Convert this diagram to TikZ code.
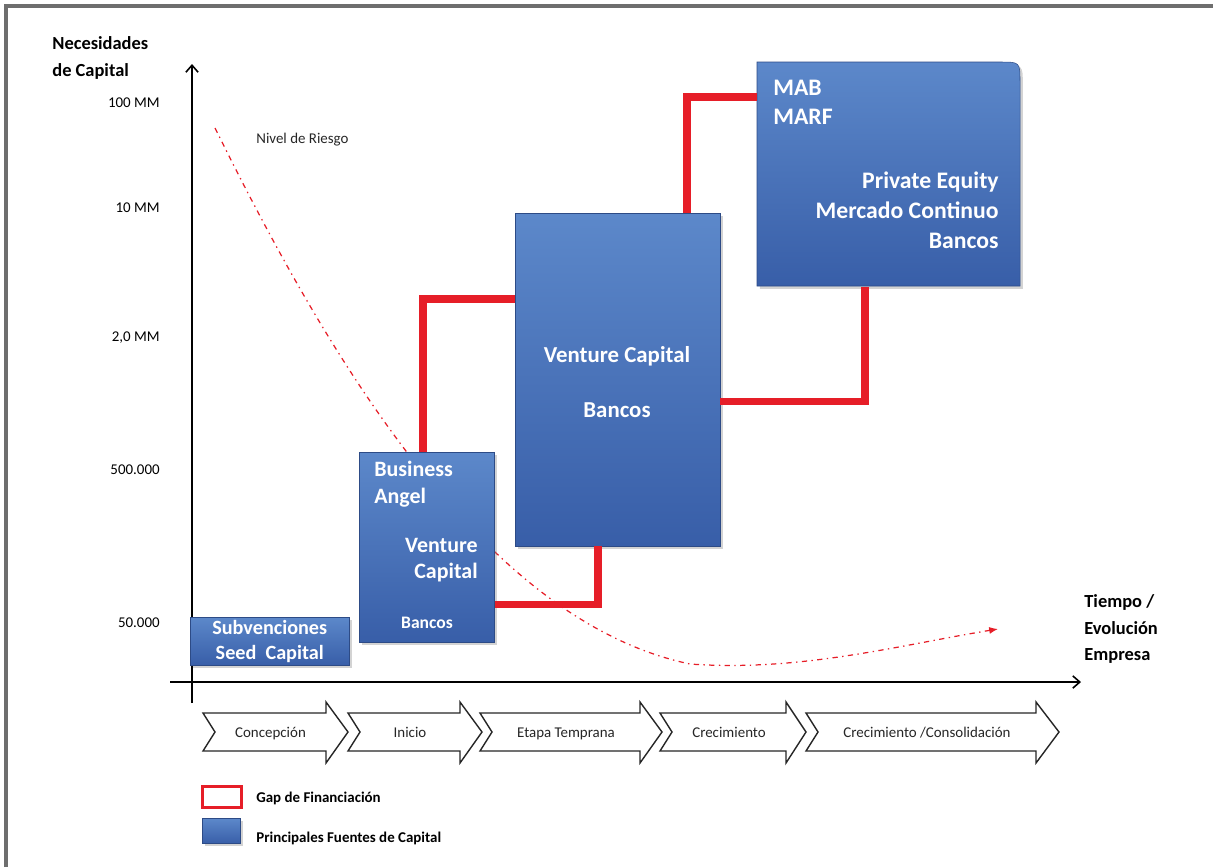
\documentclass[tikz,border=0pt]{standalone}
\usepackage{fontspec}
\setmainfont{Carlito}
\usetikzlibrary{arrows.meta,shadows,calc}

\definecolor{azularriba}{RGB}{92,136,202}
\definecolor{azulabajo}{RGB}{56,94,168}
\definecolor{gaprojo}{RGB}{230,30,40}
\definecolor{marco}{RGB}{110,110,110}

\tikzset{
	fuente/.style={top color=azularriba, bottom color=azulabajo, draw=azulabajo!80!black, line width=0.3pt,
		drop shadow={shadow xshift=1.6pt, shadow yshift=-1.6pt, opacity=0.35}},
	fuentetxt/.style={text=white, font=\fontsize{12.5}{15}\selectfont\bfseries, inner sep=0pt},
	gap/.style={draw=gaprojo, line width=4pt, line join=miter},
	eje/.style={line width=0.9pt, -{Straight Barb[length=4pt,width=7pt]}},
	etapa/.style={draw=black!85, line width=0.8pt, fill=white},
	etapatxt/.style={font=\fontsize{8.5}{10}\selectfont, text=black!85, inner sep=0pt, text height=1.6ex, text depth=0.4ex},
	ticktxt/.style={font=\fontsize{8.5}{10}\selectfont, anchor=east, inner sep=0pt},
	titulo/.style={font=\fontsize{10.5}{15.2}\selectfont\bfseries, align=left, anchor=west, inner sep=0pt},
	leyenda/.style={font=\fontsize{8.5}{10}\selectfont\bfseries, anchor=west, inner sep=0pt},
}

% chevron of one stage: left, head base, tip, name, text
\newcommand{\etapa}[5]{%
	\draw[etapa] (#1,713) -- (#2,713) -- (#2,702) -- (#3,732) -- (#2,763) -- (#2,751) -- (#1,751) -- ({#1+12},732) -- cycle;
	\node[etapatxt] (#4) at ({(#1+#2)/2+6},732) {#5};}

\begin{document}
\begin{tikzpicture}[x=0.02cm, y=-0.02cm]
	%%%%% START %%%%%
	\useasboundingbox (0,0) rectangle (1213,867);
	\draw[marco, line width=2.4pt] (6,867) -- (6,6) -- (1213,6);
	
	% titles and ticks
	\node[titulo] (necesidades) at (52,58) {Necesidades\\de Capital};
	\node[titulo] (tiempo) at (1084,629) {Tiempo /\\Evolución\\Empresa};
	\node[ticktxt] (t100) at (160,103) {100 MM};
	\node[ticktxt] (t10) at (160,208) {10 MM};
	\node[ticktxt] (t2) at (160,338) {2,0 MM};
	\node[ticktxt] (t500) at (160,470) {500.000};
	\node[ticktxt] (t50) at (160,623) {50.000};
	\node[etapatxt, anchor=west] (riesgo) at (256,138) {Nivel de Riesgo};
	
	% risk curve
	\draw[gaprojo, line width=0.7pt, dash pattern=on 3pt off 2.5pt on 0.8pt off 2.5pt, -{Latex[length=5pt,width=4pt]}]
		(215,128) .. controls (325,350) and (480,620) .. (690,664) .. controls (800,672) and (900,645) .. (998,629);
	
	% axes
	\draw[eje] (192,703) -- (192,64);
	\draw[eje] (170,682) -- (1081,682);
	
	% sources of capital
	\node[fuente, anchor=north west, minimum width=3.18cm, minimum height=0.96cm] (sub) at (190,617) {};
	\node[fuente, anchor=north west, minimum width=2.70cm, minimum height=3.80cm] (ba) at (359,452) {};
	\node[fuente, anchor=north west, minimum width=4.10cm, minimum height=6.66cm] (vc) at (515,213) {};
	\path[fuente] (757,286) -- (757,62) -- (1000,62) .. controls (1020,62) .. (1020,82) -- (1020,286) -- cycle;
	\node[anchor=north west, inner sep=0pt, minimum width=5.26cm, minimum height=4.48cm] (mab) at (757,62) {};
	
	\node[fuentetxt, align=center, font=\fontsize{11.5}{14.5}\selectfont\bfseries] (subtxt) at (sub) {Subvenciones\\Seed\ \ Capital};
	\node[fuentetxt, align=left, anchor=west] (batxt) at (374,484) {Business\\Angel};
	\node[fuentetxt, align=right, anchor=east] (vctxt) at (478,560) {Venture\\Capital};
	\node[fuentetxt, font=\fontsize{10}{12}\selectfont\bfseries] (bancosba) at (427,623) {Bancos};
	\node[fuentetxt, align=center, font=\fontsize{13}{31}\selectfont\bfseries] (vcgrande) at (617,382) {Venture Capital\\Bancos};
	\node[fuentetxt, align=left, anchor=west, font=\fontsize{13.5}{16.5}\selectfont\bfseries] (mabtxt) at (773,102) {MAB\\MARF};
	\node[fuentetxt, align=right, anchor=east, font=\fontsize{13.5}{17}\selectfont\bfseries] (petxt) at (999,210) {Private Equity\\Mercado Continuo\\Bancos};
	
	% financing gaps
	\draw[gap] (423,0 |- ba.north) |- (vc.west |- 0,299);
	\draw[gap] (ba.east |- 0,604) -| (598,0 |- vc.south);
	\draw[gap] (687,0 |- vc.north) |- (mab.west |- 0,97);
	\draw[gap] (vc.east |- 0,401) -| (865,0 |- mab.south);
	
	% stages
	\etapa{203}{326}{348}{concepcion}{Concepción}
	\etapa{348}{460}{482}{inicio}{Inicio}
	\etapa{480}{640}{662}{temprana}{Etapa Temprana}
	\etapa{660}{786}{806}{crecimiento}{Crecimiento}
	\etapa{806}{1036}{1059}{consolidacion}{Crecimiento /Consolidación}
	
	% legend
	\node[draw=gaprojo, line width=1.6pt, minimum width=0.78cm, minimum height=0.42cm] (leygap) at (222,797) {};
	\node[fuente, minimum width=0.76cm, minimum height=0.5cm] (leyfuente) at (221,831) {};
	\node[leyenda] (leygaptxt) at (256,798) {Gap de Financiación};
	\node[leyenda] (leyfuentetxt) at (256,838) {Principales Fuentes de Capital};
	%%%%% END %%%%%
\end{tikzpicture}
\end{document}
